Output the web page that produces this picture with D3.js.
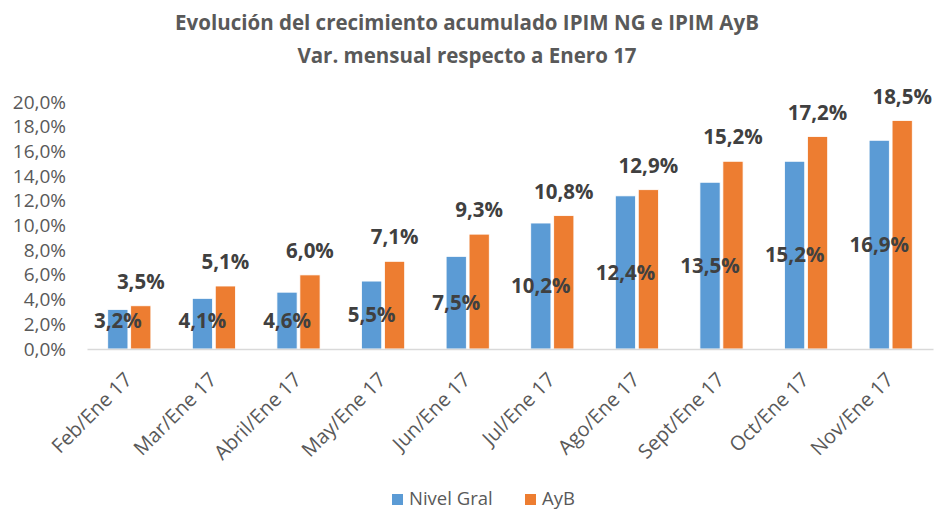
<!DOCTYPE html>
<html><head><meta charset="utf-8">
<script src="https://cdn.jsdelivr.net/npm/d3@7"></script>
<style>body{margin:0;background:#fff}svg{display:block}</style>
</head><body>
<script>
const categories = ["Feb/Ene 17","Mar/Ene 17","Abril/Ene 17","May/Ene 17","Jun/Ene 17","Jul/Ene 17","Ago/Ene 17","Sept/Ene 17","Oct/Ene 17","Nov/Ene 17"];
const nivelGral = [3.2,4.1,4.6,5.5,7.5,10.2,12.4,13.5,15.2,16.9];
const ayb = [3.5,5.1,6.0,7.1,9.3,10.8,12.9,15.2,17.2,18.5];
const seriesNames = ["Nivel Gral","AyB"];
const yTicks = [0,2,4,6,8,10,12,14,16,18,20];
const titleLines = ["Evolución del crecimiento acumulado IPIM NG e IPIM AyB","Var. mensual respecto a Enero 17"];

const W = 934, H = 513;
const colors = ["#5B9BD5","#ED7D31"];
const font = "'Open Sans', sans-serif";
const fmt = v => v.toFixed(1).replace(".", ",") + "%";

const svg = d3.select("body").append("svg").attr("width", W).attr("height", H);

const m = {left: 87, right: 1, top: 102, bottom: 164};
const x0 = d3.scaleBand().domain(categories).range([m.left, W - m.right]).paddingInner(0.49).paddingOuter(0.245);
const x1 = d3.scaleBand().domain(seriesNames).range([0, x0.bandwidth()]).paddingInner(0.12);
const y = d3.scaleLinear().domain([0, 20]).range([H - m.bottom, m.top]);

// title
svg.append("g").selectAll("text").data(titleLines).join("text")
  .attr("x", W/2 + 0).attr("y", (d,i) => 30 + i*33)
  .attr("text-anchor","middle").attr("font-family", font).attr("font-weight", 700)
  .attr("font-size", 20.5).attr("fill", "#595959").text(d => d);

// y axis
const yAxis = d3.axisLeft(y).tickValues(yTicks).tickFormat(d => d.toFixed(1).replace(".", ",") + "%").tickSize(0).tickPadding(0);
const gy = svg.append("g").attr("transform", `translate(${m.left - 21},0)`).call(yAxis);
gy.select(".domain").remove();
gy.selectAll("text").attr("font-family", font).attr("font-size", 19).attr("fill", "#595959");

// bars
const data = categories.map((c,i) => ({c, vals: [nivelGral[i], ayb[i]]}));
const groups = svg.append("g").selectAll("g").data(data).join("g")
  .attr("transform", d => `translate(${x0(d.c)},0)`);
groups.selectAll("rect").data(d => d.vals.map((v,j) => ({v, s: seriesNames[j], j}))).join("rect")
  .attr("x", d => x1(d.s)).attr("width", x1.bandwidth())
  .attr("y", d => y(d.v)).attr("height", d => y(0) - y(d.v))
  .attr("fill", d => colors[d.j]).attr("stroke", "#fff").attr("stroke-width", 0.8);

// x axis line
const xAxis = d3.axisBottom(x0).tickSize(0).tickPadding(0);
const gx = svg.append("g").attr("transform", `translate(0,${y(0)})`).call(xAxis);
gx.select(".domain").attr("stroke", "#D9D9D9").attr("stroke-width", 1.5);
gx.selectAll("text")
  .attr("font-family", font).attr("font-size", 20).attr("fill", "#595959")
  .attr("text-anchor", "end").attr("dy", null).attr("y", 0)
  .attr("transform", "translate(4,32) rotate(-45)");

// data labels
groups.each(function(d){
  const g = d3.select(this);
  g.append("text")
    .attr("x", x1(seriesNames[0]) + x1.bandwidth()/2)
    .attr("y", Math.min(y(d.vals[0]/2), y(0) - 28))
    .attr("dy", "0.35em").attr("text-anchor","middle")
    .attr("font-family", font).attr("font-weight", 700).attr("font-size", 20.5)
    .attr("fill", "#404040").text(fmt(d.vals[0]));
  g.append("text")
    .attr("x", x1(seriesNames[1]) + x1.bandwidth()/2)
    .attr("y", y(d.vals[1]) - 24)
    .attr("dy", "0.35em").attr("text-anchor","middle")
    .attr("font-family", font).attr("font-weight", 700).attr("font-size", 20.5)
    .attr("fill", "#404040").text(fmt(d.vals[1]));
});

// legend
const legend = svg.append("g").attr("transform", "translate(392,499)");
const li = legend.selectAll("g").data(seriesNames).join("g")
  .attr("transform", (d,i) => `translate(${i*133},0)`);
li.append("rect").attr("x", 0).attr("y", -5).attr("width", 11).attr("height", 11).attr("fill", (d,i) => colors[i]);
li.append("text").attr("x", 17).attr("y", 0).attr("dy", "0.35em")
  .attr("font-family", font).attr("font-size", 18.5).attr("fill", "#595959").text(d => d);
</script>
</body></html>
